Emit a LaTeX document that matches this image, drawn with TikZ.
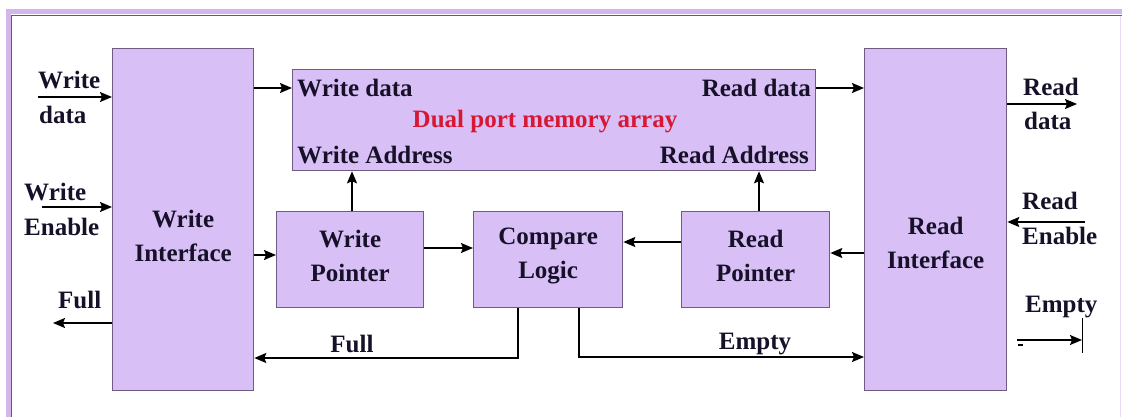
\documentclass[tikz,border=0pt]{standalone}
\usepackage{fontspec}
\setmainfont{Liberation Serif}
\usetikzlibrary{arrows.meta}
\definecolor{boxfill}{RGB}{216,192,246}
\definecolor{boxline}{RGB}{112,92,130}
\definecolor{bandcol}{RGB}{212,182,236}
\definecolor{framecol}{RGB}{100,90,110}
\definecolor{inkcol}{RGB}{22,16,40}
\definecolor{redcol}{RGB}{214,24,52}
\tikzset{
  blk/.style={draw=boxline, fill=boxfill, line width=1.3pt, inner sep=0pt, anchor=north west},
  txt/.style={font=\fontsize{25}{34}\selectfont\bfseries, text=inkcol, align=center, inner sep=0pt},
  arr/.style={draw=black, line width=1.6pt, -{Stealth[length=12pt,width=10pt,inset=2pt]}},
  wire/.style={draw=black, line width=1.6pt}
}
\begin{document}
\begin{tikzpicture}[x=1pt, y=-1pt]
\useasboundingbox (0,0) rectangle (1122,417);
\fill[white] (0,0) rectangle (1122,417);
% outer frame
\fill[bandcol] (6,9) rectangle (1122,14.5);
\fill[bandcol] (6,9) rectangle (11,417);
\draw[framecol, line width=1.4pt] (11.7,417) -- (11.7,15.5) -- (1122,15.5);
\draw[bandcol!50, line width=1pt] (1120,16) -- (1120,417);

% blocks
\node[blk, minimum width=141pt, minimum height=342pt] (wi) at (112,48) {};
\node[blk, minimum width=523pt, minimum height=101pt] (mem) at (292,69) {};
\node[blk, minimum width=147pt, minimum height=96pt] (wp) at (276,211) {};
\node[blk, minimum width=149pt, minimum height=96pt] (cl) at (473,211) {};
\node[blk, minimum width=148pt, minimum height=96pt] (rp) at (681,211) {};
\node[blk, minimum width=142pt, minimum height=342pt] (ri) at (864,48) {};

% block texts
\node[txt] (wiT) at ([yshift=-16pt]wi.center) {Write\\Interface};
\node[txt] (riT) at ([yshift=-23pt]ri.center) {Read\\Interface};
\node[txt] (wpT) at ([yshift=4pt]wp.center) {Write\\Pointer};
\node[txt] (clT) at ([yshift=4pt]cl.center) {Compare\\Logic};
\node[txt] (rpT) at ([yshift=4pt]rp.center) {Read\\Pointer};

% memory array texts
\node[txt, anchor=west] (mwd) at (297,88) {Write data};
\node[txt, anchor=east] (mrd) at (811,88) {Read data};
\node[txt, anchor=west] (mwa) at (297,155) {Write Address};
\node[txt, anchor=east] (mra) at (809,155) {Read Address};
\node[txt, text=redcol] (mtitle) at (545,122) {Dual port memory array};

% write side ports
\coordinate (wdin) at (38,97);
\draw[arr] (wdin) -- (wi.west |- wdin);
\node[txt, anchor=west] (lwd1) at (38,80) {Write};
\node[txt, anchor=west] (lwd2) at (39,115) {data};
\coordinate (wein) at (42,207);
\draw[arr] (wein) -- (wi.west |- wein);
\node[txt, anchor=west] (lwe1) at (24,192) {Write};
\node[txt, anchor=west] (lwe2) at (24,227) {Enable};
\coordinate (fullout) at (53,323);
\draw[arr] (wi.west |- fullout) -- (fullout);
\node[txt, anchor=west] (lfull) at (58,300) {Full};

% internal connections
\draw[arr] (wi.east |- 0,88) -- (mem.west |- 0,88);
\draw[arr] (wi.east |- 0,255) -- (wp.west |- 0,255);
\draw[arr] (352,0 |- wp.north) -- (352,0 |- mem.south);
\draw[arr] (wp.east |- 0,248) -- (cl.west |- 0,248);
\draw[arr] (rp.west |- 0,242) -- (cl.east |- 0,242);
\draw[arr] (759,0 |- rp.north) -- (759,0 |- mem.south);
\draw[arr] (ri.west |- 0,253) -- (rp.east |- 0,253);
\draw[arr] (mem.east |- 0,88) -- (ri.west |- 0,88);
\draw[arr] (518,0 |- cl.south) |- (wi.east |- 0,358);
\draw[arr] (579,0 |- cl.south) |- (ri.west |- 0,357);
\node[txt] (ifull) at (352,344) {Full};
\node[txt] (iempty) at (755,344) {Empty};

% read side ports
\coordinate (rdout) at (1077,104);
\draw[arr] (ri.east |- rdout) -- (rdout);
\node[txt, anchor=west] (lrd1) at (1023,87) {Read};
\node[txt, anchor=west] (lrd2) at (1024,121) {data};
\coordinate (rein) at (1085,222);
\draw[arr] (rein) -- (ri.east |- rein);
\node[txt, anchor=west] (lre1) at (1022,201) {Read};
\node[txt, anchor=west] (lre2) at (1022,236) {Enable};
\coordinate (emA) at (1017,340);
\coordinate (emB) at (1082,340);
\draw[arr] (emA) -- (emB);
\draw[black, line width=0.8pt] (1082,318) -- (1082,353);
\draw[black, line width=1.2pt] (1018,345) -- (1023,345);
\node[txt, anchor=west] (lem) at (1025,307) {Empty};
\end{tikzpicture}
\end{document}
